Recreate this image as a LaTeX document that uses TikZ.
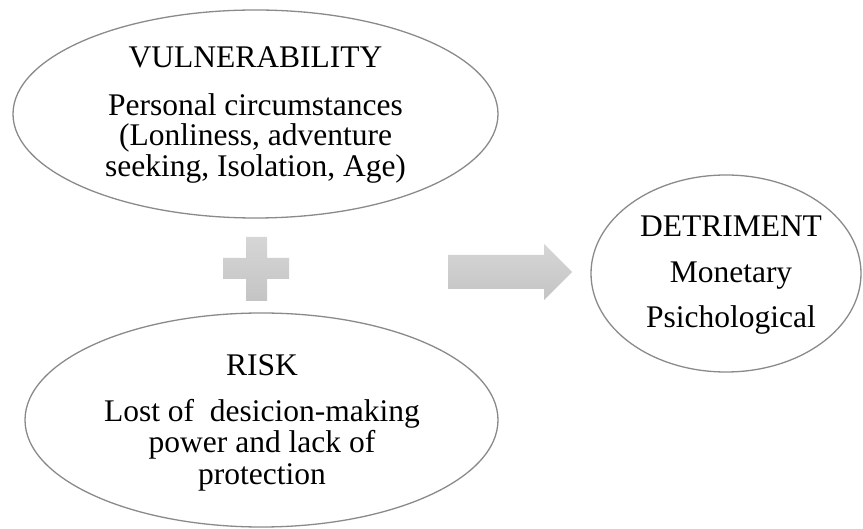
\documentclass[tikz,border=0pt]{standalone}
\usepackage{fontspec}
\setmainfont{Liberation Serif}
\usetikzlibrary{shapes.geometric}
\definecolor{edgegray}{HTML}{8A8A8A}
\definecolor{shapetop}{HTML}{D6D6D6}
\definecolor{shapebot}{HTML}{C4C4C4}
\tikzset{
  ell/.style={ellipse, draw=edgegray, line width=1.3pt, fill=white, inner sep=0pt},
  txt/.style={anchor=base, inner sep=0pt, font=\fontsize{31.5}{31.5}\selectfont},
  grayshape/.style={top color=shapetop, bottom color=shapebot, draw=none}
}
\begin{document}
\begin{tikzpicture}[x=1pt,y=-1pt]
\useasboundingbox (0,0) rectangle (863,529);
% ellipses
\node[ell, minimum width=485pt, minimum height=208pt] (vul) at (255.5,114) {};
\node[ell, minimum width=473pt, minimum height=214pt] (risk) at (261.5,420) {};
\node[ell, minimum width=270pt, minimum height=197pt] (det) at (726,273.5) {};
% plus sign
\path[grayshape] (246,237) -- (267,237) -- (267,258) -- (289,258) -- (289,279) -- (267,279)
  -- (267,301) -- (246,301) -- (246,279) -- (223,279) -- (223,258) -- (246,258) -- cycle;
% arrow
\path[grayshape] (448,255) -- (544,255) -- (544,244) -- (572,272) -- (544,300) -- (544,289) -- (448,289) -- cycle;
% texts: vulnerability
\node[txt] (v1) at (255.5,68) {VULNERABILITY};
\node[txt] (v2) at (255.5,115.5) {Personal circumstances};
\node[txt] (v3) at (255.5,146) {(Lonliness, adventure};
\node[txt] (v4) at (255.5,176.5) {seeking, Isolation, Age)};
% risk
\node[txt] (r1) at (262,376) {RISK};
\node[txt] (r2) at (262,422) {Lost of \ desicion-making};
\node[txt] (r3) at (262,453) {power and lack of};
\node[txt] (r4) at (262,485) {protection};
% detriment
\node[txt] (d1) at (731,237) {DETRIMENT};
\node[txt] (d2) at (731,283) {Monetary};
\node[txt] (d3) at (731,328) {Psichological};
\end{tikzpicture}
\end{document}
